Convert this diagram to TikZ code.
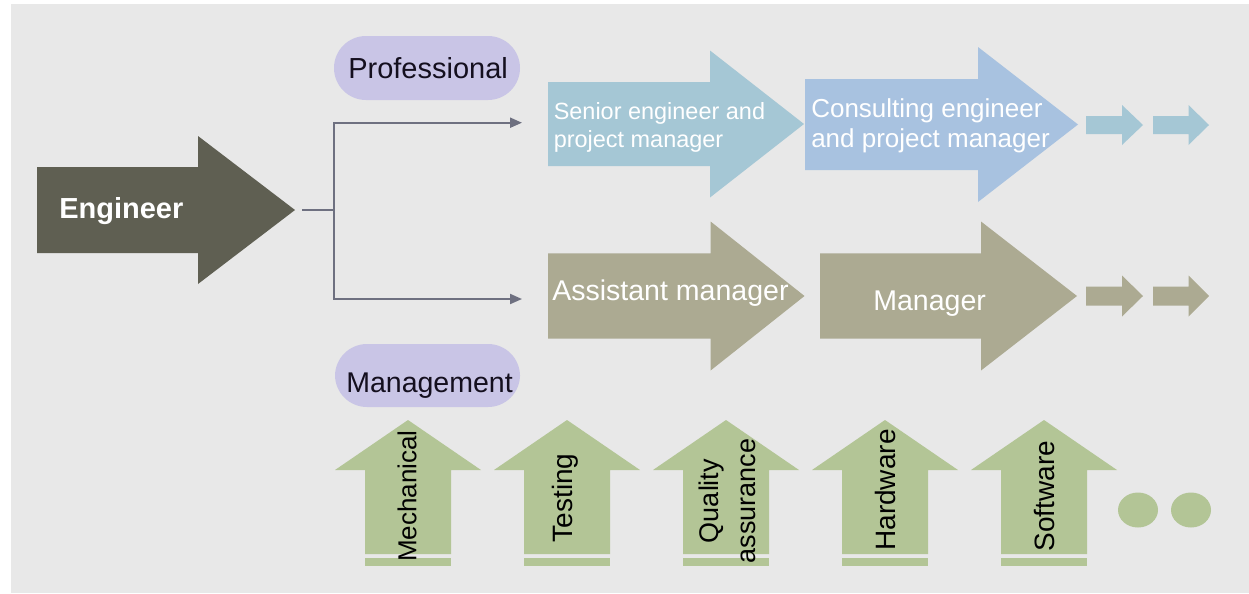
\documentclass[tikz,border=0pt]{standalone}
\usepackage{fontspec}
\setmainfont{Liberation Sans}
\usetikzlibrary{arrows.meta}
\definecolor{bgc}{HTML}{E8E8E8}
\definecolor{engc}{HTML}{5F5F52}
\definecolor{pillc}{HTML}{C9C5E6}
\definecolor{connc}{HTML}{6E7080}
\definecolor{blueA}{HTML}{A5C7D5}
\definecolor{blueB}{HTML}{A8C2E0}
\definecolor{olivec}{HTML}{ACAA92}
\definecolor{greenc}{HTML}{B3C596}
\definecolor{pilltext}{HTML}{140F1E}
% right arrow: colour, xl, xh, xt, yc, bh, hh
\newcommand\myRArrow[7]{%
  \fill[#1] (#2,#5-#6) -- (#3,#5-#6) -- (#3,#5-#7) -- (#4,#5) -- (#3,#5+#7) -- (#3,#5+#6) -- (#2,#5+#6) -- cycle;}
% up arrow: xc
\newcommand\myUArrow[1]{%
  \fill[greenc] (#1,420) -- (#1+73,470) -- (#1+43,470) -- (#1+43,554) -- (#1-43,554) -- (#1-43,470) -- (#1-73,470) -- cycle;
  \fill[greenc] (#1-43,558) rectangle (#1+43,566);}
\tikzset{
  pill/.style={fill=pillc, rounded corners=24pt, draw=none},
  conn/.style={draw=connc, line width=1.5pt},
  wtext/.style={text=white, inner sep=0pt},
  ptext/.style={text=pilltext, inner sep=0pt},
  vtext/.style={text=black, inner sep=0pt, rotate=90},
}
\begin{document}
\begin{tikzpicture}[x=0.75pt,y=-0.75pt]
\useasboundingbox (0,0) rectangle (1249,593);
\fill[white] (0,0) rectangle (1249,593);
\fill[bgc] (11,4) rectangle (1249,593);

% Engineer
\myRArrow{engc}{37}{198}{295}{210}{43}{74}
\node[wtext, anchor=base west, font=\bfseries\fontsize{21.75pt}{26pt}\selectfont] (eng) at (59,218) {Engineer};

% pills
\fill[pill] (334,36) rectangle (520,100);
\node[ptext, anchor=base west, font=\fontsize{21.75pt}{26pt}\selectfont] (prof) at (348,78) {Professional};
\fill[pill] (335,344) rectangle (520,407);
\node[ptext, anchor=base west, font=\fontsize{21.4pt}{26pt}\selectfont] (mgmt) at (346,392) {Management};

% connectors
\coordinate (stub) at (302,210);
\coordinate (split) at (334,210);
\coordinate (toP) at (522,122.7);
\coordinate (toM) at (522,299);
\draw[conn] (stub) -- (split);
\draw[conn, -{Triangle[length=9pt,width=7.5pt]}] (split) |- (toP);
\draw[conn, -{Triangle[length=9pt,width=7.5pt]}] (split) |- (toM);

% professional track
\myRArrow{blueA}{548}{710}{804}{124}{42}{73.5}
\myRArrow{blueB}{805}{978}{1078}{124.5}{45.5}{77.5}
\myRArrow{blueA}{1086}{1122}{1143}{125}{9}{20}
\myRArrow{blueA}{1153}{1188.5}{1209}{125}{9}{20}
\node[wtext, anchor=base west, align=left, font=\fontsize{17.6pt}{21pt}\selectfont] (senior) at (553.5,147) {Senior engineer and\\project manager};
\node[wtext, anchor=base west, align=left, font=\fontsize{19.5pt}{22.5pt}\selectfont] (consult) at (811,147) {Consulting engineer\\and project manager};

% management track
\myRArrow{olivec}{548}{710.6}{804.5}{296}{42.7}{74.5}
\myRArrow{olivec}{820}{981}{1077}{296}{42.7}{74.5}
\myRArrow{olivec}{1086}{1122}{1143}{296}{9.5}{20.5}
\myRArrow{olivec}{1153}{1188.5}{1209}{296}{9.5}{20.5}
\node[wtext, anchor=base west, font=\fontsize{21.4pt}{26pt}\selectfont] (asst) at (552,300) {Assistant manager};
\node[wtext, anchor=base west, font=\fontsize{21.4pt}{26pt}\selectfont] (mgr) at (873,310) {Manager};

% disciplines
\myUArrow{408}
\myUArrow{567}
\myUArrow{726}
\myUArrow{885}
\myUArrow{1044}
\node[vtext, font=\fontsize{19.5pt}{24pt}\selectfont] (mech) at (407,496) {Mechanical};
\node[vtext, font=\fontsize{21pt}{25pt}\selectfont] (test) at (565,498) {Testing};
\node[vtext, align=center, font=\fontsize{20.25pt}{27.75pt}\selectfont] (qa) at (727,501) {Quality\\assurance};
\node[vtext, font=\fontsize{21pt}{25pt}\selectfont] (hw) at (885,490) {Hardware};
\node[vtext, font=\fontsize{21pt}{25pt}\selectfont] (sw) at (1044,496) {Software};

\fill[greenc] (1138,510) ellipse [x radius=20, y radius=17.5];
\fill[greenc] (1191,510) ellipse [x radius=20, y radius=17.5];
\end{tikzpicture}
\end{document}
